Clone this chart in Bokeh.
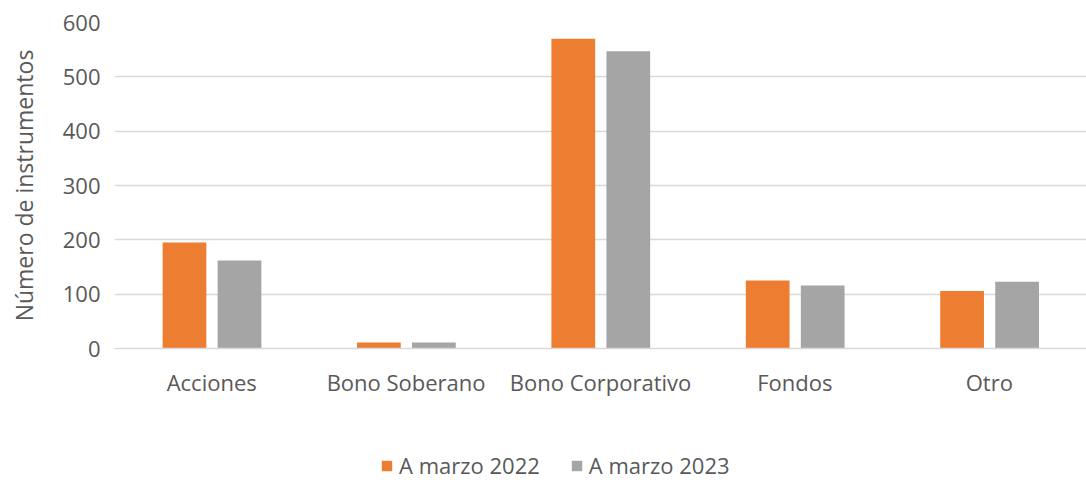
from bokeh.plotting import figure
from bokeh.layouts import column
from bokeh.models import FactorRange, Range1d, Legend, LegendItem, ColumnDataSource
from bokeh.transform import dodge
from bokeh.embed import file_html
from bokeh.resources import INLINE

categories = ["Acciones", "Bono Soberano", "Bono Corporativo", "Fondos", "Otro"]
series_names = ["A marzo 2022", "A marzo 2023"]
marzo_2022 = [195, 11, 570, 125, 106]
marzo_2023 = [162, 11, 547, 116, 123]
y_ticks = [0, 100, 200, 300, 400, 500, 600]
colors = ["#ED7D31", "#A5A5A5"]

FONT = "Open Sans"
TXT = "#595959"
GRID = "#D9D9D9"

src = ColumnDataSource(dict(cat=categories, a=marzo_2022, b=marzo_2023))

p = figure(width=1086, height=410, x_range=FactorRange(*categories, range_padding=0),
           y_range=Range1d(0, 600), output_backend="svg", toolbar_location=None,
           min_border_left=114, min_border_right=0, min_border_top=22, min_border_bottom=62)
p.outline_line_color = None

p.vbar(x=dodge("cat", -0.140, range=p.x_range), top="a", width=0.225, source=src,
       fill_color=colors[0], line_color=None)
p.vbar(x=dodge("cat", 0.143, range=p.x_range), top="b", width=0.225, source=src,
       fill_color=colors[1], line_color=None)

p.yaxis.ticker = y_ticks
p.yaxis.axis_line_color = None
p.yaxis.major_tick_line_color = None
p.yaxis.minor_tick_line_color = None
p.yaxis.major_tick_out = 0
p.yaxis.major_label_standoff = 14
p.yaxis.axis_label = "Número de instrumentos"
p.yaxis.axis_label_standoff = 20
p.yaxis.axis_label_text_font = FONT
p.yaxis.axis_label_text_font_style = "normal"
p.yaxis.axis_label_text_font_size = "23px"
p.yaxis.axis_label_text_color = TXT

p.xaxis.axis_line_color = GRID
p.xaxis.axis_line_width = 1.5
p.xaxis.major_tick_line_color = None
p.xaxis.minor_tick_line_color = None
p.xaxis.major_tick_out = 0
p.xaxis.major_label_standoff = 18

for ax in (p.xaxis, p.yaxis):
    ax.major_label_text_font = FONT
    ax.major_label_text_font_size = "22px"
    ax.major_label_text_color = TXT

p.xgrid.grid_line_color = None
p.ygrid.grid_line_color = GRID
p.ygrid.grid_line_width = 1.5

# legend strip below the chart (its frame is aligned with the chart's frame)
lg = figure(width=1086, height=70, x_range=Range1d(0, 1), y_range=Range1d(0, 1),
            output_backend="svg", toolbar_location=None, x_axis_type=None, y_axis_type=None,
            min_border=0)
lg.outline_line_color = None
lg.grid.grid_line_color = None
off = ColumnDataSource(dict(x=[5], top=[5]))  # outside the strip's ranges: not drawn
l1 = lg.vbar(x="x", top="top", width=0.1, source=off, fill_color=colors[0], line_color=None)
l2 = lg.vbar(x="x", top="top", width=0.1, source=off, fill_color=colors[1], line_color=None)
legend = Legend(items=[LegendItem(label=series_names[0], renderers=[l1]),
                       LegendItem(label=series_names[1], renderers=[l2])],
                orientation="horizontal", location=(266, 0),
                glyph_width=13, glyph_height=13, label_standoff=6, spacing=30,
                padding=0, margin=0, border_line_color=None, background_fill_alpha=0,
                label_text_font=FONT, label_text_font_size="22px", label_text_color=TXT)
lg.add_layout(legend, "center")

open("out.html", "w").write(file_html(column(p, lg, spacing=0), INLINE))
